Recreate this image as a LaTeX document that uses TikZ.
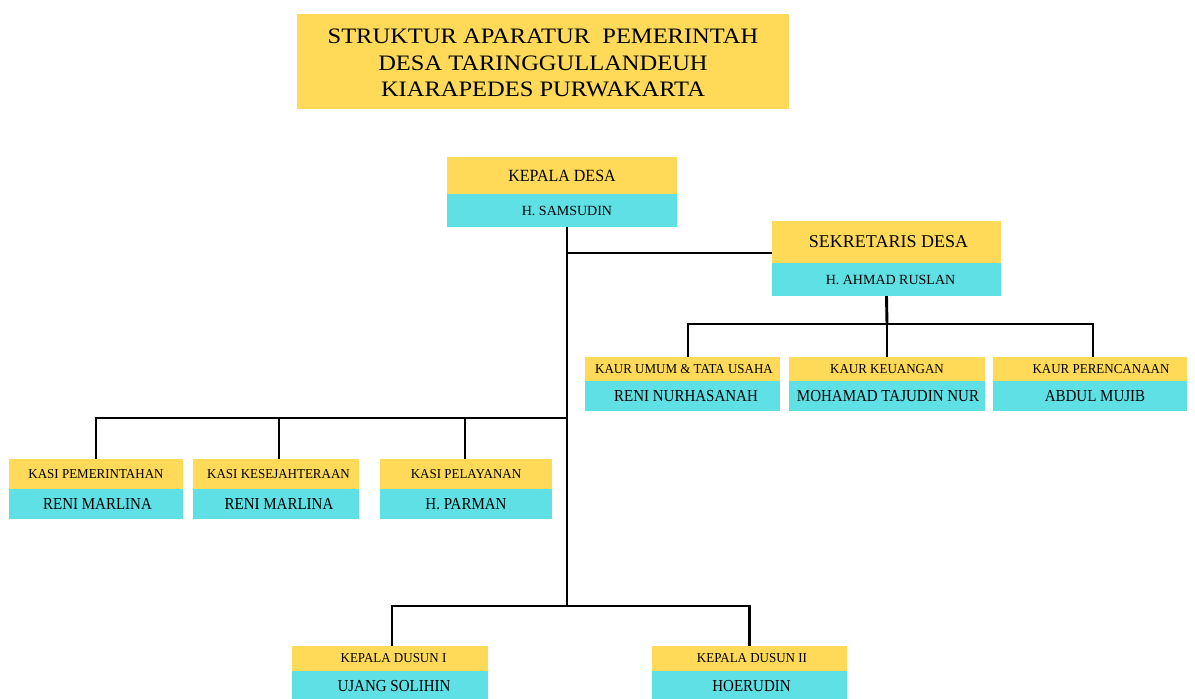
\documentclass[tikz,border=0pt]{standalone}
\usepackage{fontspec}
\usepackage{graphicx}
\setmainfont{Liberation Serif}
\usetikzlibrary{backgrounds}
\definecolor{boxyellow}{RGB}{254,218,88}
\definecolor{boxcyan}{RGB}{94,224,229}
\newcommand{\fsz}[1]{\fontsize{#1}{#1}\selectfont}
\newcommand{\vsc}[2]{\scalebox{1}[#1]{#2}}
\newcommand{\rl}[1]{\vsc{1.05}{#1}}
\newcommand{\nm}[1]{\vsc{1.12}{#1}}
\newcommand{\sh}[1]{\hspace*{#1}}
\tikzset{
  role/.style={fill=boxyellow, inner sep=0pt, outer sep=0pt, text=black, align=center},
  person/.style={fill=boxcyan, inner sep=0pt, outer sep=0pt, text=black, align=center},
  link/.style={draw=black, line width=2.9pt},
  rolesm/.style={role, font=\fsz{13}},
  personsm/.style={person, font=\fsz{15}},
}
\begin{document}
\begin{tikzpicture}[x=1pt,y=-1pt]
\useasboundingbox (0,0) rectangle (1195,699);

% Title
\node[role, minimum width=492pt, minimum height=95pt, font=\fontsize{24.5}{29.3}\selectfont] (title) at (543,61.5)
  {\raisebox{-3.5pt}[\height][\depth]{\vsc{0.9}{\begin{tabular}{@{}c@{}}STRUKTUR APARATUR~ PEMERINTAH\\DESA TARINGGULLANDEUH\\KIARAPEDES PURWAKARTA\end{tabular}}}};

% Kepala Desa
\node[role, minimum width=230pt, minimum height=37pt, font=\fsz{16}] (kdr) at (562,175.5) {\vsc{1.07}{KEPALA DESA}};
\node[person, minimum width=230pt, minimum height=33pt, font=\fsz{14}] (kdn) at (562,210.5) {\sh{10pt}H. SAMSUDIN};

% Sekretaris Desa
\node[role, minimum width=229pt, minimum height=42pt, font=\fsz{18}] (sdr) at (886.5,242) {\sh{4pt}SEKRETARIS DESA};
\node[person, minimum width=229pt, minimum height=33pt, font=\fsz{14}] (sdn) at (886.5,279.5) {\sh{8pt}H. AHMAD RUSLAN};

% Kaur
\node[rolesm, minimum width=195pt, minimum height=24pt] (k1r) at (682.5,369) {\sh{3pt}\rl{KAUR UMUM \& TATA USAHA}};
\node[personsm, minimum width=195pt, minimum height=30pt] (k1n) at (682.5,396) {\sh{7pt}\nm{RENI NURHASANAH}};
\node[rolesm, minimum width=196pt, minimum height=24pt] (k2r) at (887,369) {\rl{KAUR KEUANGAN}};
\node[personsm, minimum width=196pt, minimum height=30pt] (k2n) at (887,396) {\sh{2pt}\nm{MOHAMAD TAJUDIN NUR}};
\node[rolesm, minimum width=194pt, minimum height=24pt] (k3r) at (1090,369) {\sh{22pt}\rl{KAUR PERENCANAAN}};
\node[personsm, minimum width=194pt, minimum height=30pt] (k3n) at (1090,396) {\sh{10pt}\nm{ABDUL MUJIB}};

% Kasi
\node[rolesm, minimum width=174pt, minimum height=30pt] (s1r) at (96,474) {\rl{KASI PEMERINTAHAN}};
\node[personsm, minimum width=174pt, minimum height=30pt] (s1n) at (96,504) {\sh{3pt}\nm{RENI MARLINA}};
\node[rolesm, minimum width=166pt, minimum height=30pt] (s2r) at (276,474) {\sh{5pt}\rl{KASI KESEJAHTERAAN}};
\node[personsm, minimum width=166pt, minimum height=30pt] (s2n) at (276,504) {\sh{6pt}\nm{RENI MARLINA}};
\node[rolesm, minimum width=172pt, minimum height=30pt] (s3r) at (466,474) {\rl{KASI PELAYANAN}};
\node[personsm, minimum width=172pt, minimum height=30pt] (s3n) at (466,504) {\nm{H. PARMAN}};

% Kepala Dusun
\node[rolesm, minimum width=196pt, minimum height=25pt] (d1r) at (390,658.5) {\sh{7pt}\rl{KEPALA DUSUN I}};
\node[personsm, minimum width=196pt, minimum height=30pt] (d1n) at (390,686) {\sh{8pt}\nm{UJANG SOLIHIN}};
\node[rolesm, minimum width=195pt, minimum height=25pt] (d2r) at (749.5,658.5) {\sh{5pt}\rl{KEPALA DUSUN II}};
\node[personsm, minimum width=195pt, minimum height=30pt] (d2n) at (749.5,686) {\sh{4pt}\nm{HOERUDIN}};

% Connectors
\coordinate (top) at (567,227);
\coordinate (jsek) at (567,253);
\coordinate (jkasi) at (567,418);
\coordinate (bot) at (567,606);
\coordinate (jkaur) at (887,324);
\begin{scope}[on background layer]
  \draw[link] (top) -- (bot);
  \draw[link] (jsek) -- (jsek -| sdr.west);
  \draw[link] (sdn.south) -- (jkaur);
  \draw[link] ([xshift=5.5pt]k1r.north) |- (jkaur) -| ([xshift=3pt]k3r.north);
  \draw[link] (jkaur) -- (k2r.north);
  \draw[link] (s1r.north) |- (jkasi);
  \draw[link] ([xshift=3pt]s2r.north) -- ([xshift=3pt]s2r.north |- jkasi);
  \draw[link] ([xshift=-1pt]s3r.north) -- ([xshift=-1pt]s3r.north |- jkasi);
  \draw[link] ([xshift=2pt]d1r.north) |- (bot) -| (d2r.north);
\end{scope}
\end{tikzpicture}
\end{document}
